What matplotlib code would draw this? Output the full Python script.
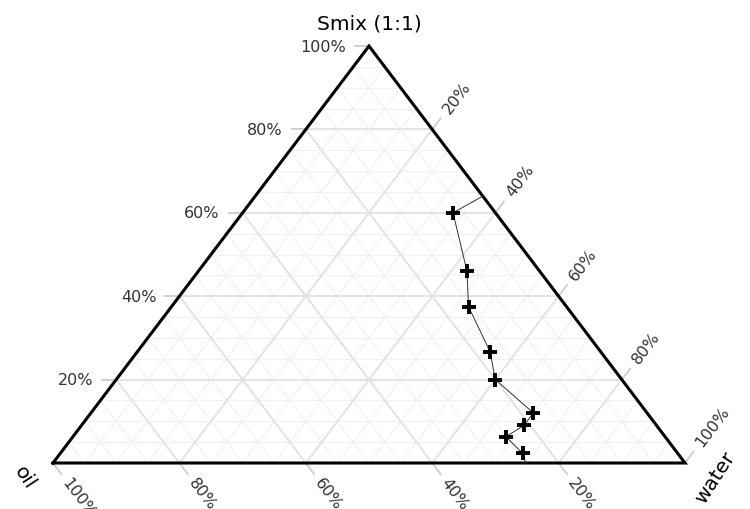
import numpy as np
import matplotlib
matplotlib.use("Agg")
import matplotlib.pyplot as plt

plt.rcParams['font.family'] = ['DejaVu Sans']

# ---- data (fractions) ----
smix_pts  = [0.600, 0.460, 0.375, 0.267, 0.200, 0.120, 0.090, 0.063, 0.023]
water_pts = [0.333, 0.425, 0.470, 0.558, 0.600, 0.700, 0.700, 0.685, 0.732]
oil_pts   = [1 - s - w for s, w in zip(smix_pts, water_pts)]

# boundary end points of the connecting line (no markers)
line_start = dict(smix=0.640, water=0.360)
line_end   = dict(smix=0.000, water=0.748)

tick_vals   = [0.2, 0.4, 0.6, 0.8, 1.0]
tick_labels = ["20%", "40%", "60%", "80%", "100%"]
major_grid  = [0.2, 0.4, 0.6, 0.8]
minor_grid  = [v / 100 for v in range(5, 100, 5) if v % 20 != 0]

title_top, title_left, title_right = "Smix (1:1)", "oil", "water"

# ---- figure / projection ----
W, H = 750, 510
fig = plt.figure(figsize=(7.5, 5.1), dpi=100)
L, R, T, B = 53, 685, 47, 464  # triangle pixel extent
ax = fig.add_axes([L / W, (H - B) / H, (R - L) / W, (B - T) / H])
ax.set_xlim(0, 1)
ax.set_ylim(0, 1)
ax.axis('off')
PX, PY = R - L, B - T  # pixels per data unit


def proj(smix, water):
    s = np.asarray(smix, float)
    w = np.asarray(water, float)
    return w + s / 2.0, s


def step(x, y, dx, dy, px):
    # move px pixels from (x,y) along data-direction (dx,dy)
    n = np.hypot(dx * PX, dy * PY)
    return x + dx * px / n, y + dy * px / n


def seg(s1, w1, s2, w2, **kw):
    x1, y1 = proj(s1, w1)
    x2, y2 = proj(s2, w2)
    ax.plot([x1, x2], [y1, y2], solid_capstyle='butt', clip_on=False, **kw)


def gridlines(vals, color, lw):
    for v in vals:
        # constant smix (horizontal)
        seg(v, 0, v, 1 - v, color=color, lw=lw, zorder=1)
        # constant water (parallel to left edge)
        seg(0, v, 1 - v, v, color=color, lw=lw, zorder=1)
        # constant oil (parallel to right edge)
        seg(0, 1 - v, 1 - v, 0, color=color, lw=lw, zorder=1)


gridlines(minor_grid, '#f1f1f1', 0.8)
gridlines(major_grid, '#e3e3e3', 1.4)

# triangle border
bx, by = proj([0, 1, 0, 0], [0, 0, 1, 0])
ax.plot(bx, by, color='black', lw=2.2, zorder=3, clip_on=False,
        solid_joinstyle='miter')

tick_len = 14
tick_color = '#d0d0d0'
fs_tick = 11.5
ang = np.degrees(np.arctan2(PY, 0.5 * PX))  # pixel angle of side edges

for v, lab in zip(tick_vals, tick_labels):
    # left axis: smix, horizontal ticks to the left
    x0, y0 = proj(v, 0)
    x1, y1 = step(x0, y0, -1, 0, tick_len)
    ax.plot([x0, x1], [y0, y1], color=tick_color, lw=1.4, clip_on=False)
    x2, y2 = step(x0, y0, -1, 0, tick_len + 9)
    ax.text(x2, y2, lab, ha='right', va='center', fontsize=fs_tick,
            color='#333333')

    # bottom axis: oil (oil = v at x = 1 - v), ticks down-right
    x0, y0 = proj(0, 1 - v)
    x1, y1 = step(x0, y0, 0.5, -1, tick_len)
    ax.plot([x0, x1], [y0, y1], color=tick_color, lw=1.4, clip_on=False)
    x2, y2 = step(x0, y0, 0.5, -1, tick_len + 6)
    ax.text(x2, y2, lab, ha='left', va='center', fontsize=fs_tick,
            color='#333333', rotation=-ang, rotation_mode='anchor')

    # right axis: water, ticks up-right
    x0, y0 = proj(1 - v, v)
    x1, y1 = step(x0, y0, 0.5, 1, tick_len)
    ax.plot([x0, x1], [y0, y1], color=tick_color, lw=1.4, clip_on=False)
    x2, y2 = step(x0, y0, 0.5, 1, tick_len + 9)
    ax.text(x2, y2, lab, ha='left', va='center', fontsize=fs_tick,
            color='#333333', rotation=ang, rotation_mode='anchor')

# axis titles
tx, ty = proj(1, 0)
ax.text(tx, ty + 23 / PY, title_top, ha='center', va='center', fontsize=14.5,
        color='black')
ax.text(-28 / PX, -14 / PY, title_left, ha='center', va='center',
        fontsize=14.5, rotation=-57, color='black')
ax.text(1 + 30 / PX, -14 / PY, title_right, ha='center', va='center',
        fontsize=14.5, rotation=57, color='black')

# data line + markers
line_s = [line_start['smix']] + smix_pts + [line_end['smix']]
line_w = [line_start['water']] + water_pts + [line_end['water']]
lx, ly = proj(line_s, line_w)
ax.plot(lx, ly, color='#333333', lw=0.7, zorder=4, clip_on=False)
px_, py_ = proj(smix_pts, water_pts)
ax.plot(px_, py_, linestyle='none', marker='+', markersize=10,
        markeredgewidth=2.8, color='black', zorder=5, clip_on=False)

fig.savefig('out.png', dpi=100)
